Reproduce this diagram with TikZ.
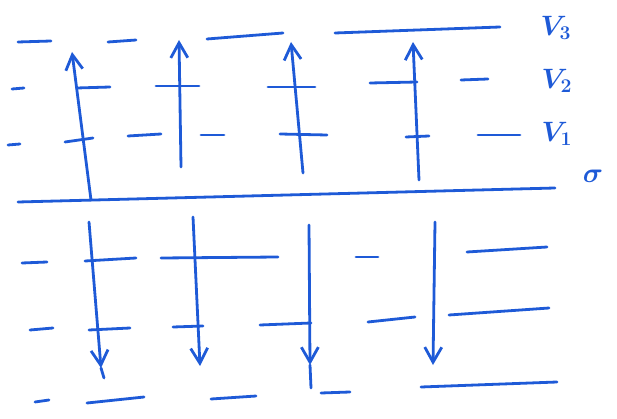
\documentclass[tikz,border=0pt]{standalone}
\usepackage{graphicx}
\usetikzlibrary{arrows.meta}
\definecolor{inkblue}{RGB}{30,90,215}
\newcommand{\biglbl}[1]{\scalebox{1.35}{\huge\boldmath$#1$}}
\begin{document}
\begin{tikzpicture}[x=1pt,y=-1pt,
  ink/.style={draw=inkblue, line width=2.8pt, line cap=round},
  uparrow/.style={ink, -{Straight Barb[length=15pt,width=17pt,line width=2.8pt]}},
  lbl/.style={text=inkblue, anchor=center, inner sep=0pt}]
\useasboundingbox (0,0) rectangle (617,419);
% level V3
\draw[ink] (18,42) -- (51,41);
\draw[ink] (108,42) -- (136,40);
\draw[ink] (207,39) -- (283,33);
\draw[ink] (335,33) -- (500,27);
% level V2
\draw[ink] (12,89) -- (24,88);
\draw[ink] (77,88) -- (110,87);
\draw[ink] (156,86) -- (199,86);
\draw[ink] (268,87) -- (315,87);
\draw[ink] (370,83) -- (417,82);
\draw[ink] (461,80) -- (488,79);
% level V1
\draw[ink] (8,145) -- (20,144);
\draw[ink] (65,142) -- (93,138);
\draw[ink] (128,136) -- (161,134);
\draw[ink] (201,135) -- (224,135);
\draw[ink] (280,134) -- (327,135);
\draw[ink] (406,137) -- (429,136);
\draw[ink] (478,135) -- (520,135);
% sigma line
\draw[ink] (18,202) -- (555,188);
% lower levels
\draw[ink] (22,263) -- (47,262);
\draw[ink] (85,261) -- (136,258);
\draw[ink] (161,258) -- (278,257);
\draw[ink] (356,257) -- (378,257);
\draw[ink] (467,252) -- (547,247);
\draw[ink] (30,330) -- (53,328);
\draw[ink] (89,330) -- (130,328);
\draw[ink] (173,327) -- (203,326);
\draw[ink] (260,325) -- (311,323);
\draw[ink] (368,322) -- (415,317);
\draw[ink] (449,315) -- (549,308);
\draw[ink] (35,402) -- (49,400);
\draw[ink] (87,403) -- (144,397);
\draw[ink] (211,399) -- (256,396);
\draw[ink] (321,393) -- (350,392);
\draw[ink] (421,387) -- (557,382);
% up arrows
\coordinate (u1s) at (91,200); \coordinate (u1e) at (72,52);
\coordinate (u2s) at (181,167); \coordinate (u2e) at (179,40);
\coordinate (u3s) at (303,173); \coordinate (u3e) at (291,42);
\coordinate (u4s) at (419,180); \coordinate (u4e) at (413,42);
\draw[uparrow] (u1s) -- (u1e);
\draw[uparrow] (u2s) -- (u2e);
\draw[uparrow] (u3s) -- (u3e);
\draw[uparrow] (u4s) -- (u4e);
% down arrows
\coordinate (d1s) at (89,222); \coordinate (d1e) at (101,368);
\coordinate (d2s) at (193,217); \coordinate (d2e) at (200,366);
\coordinate (d3s) at (309,225); \coordinate (d3e) at (310,365);
\coordinate (d4s) at (435,222); \coordinate (d4e) at (433,365);
\draw[uparrow] (d1s) -- (d1e);
\draw[uparrow] (d2s) -- (d2e);
\draw[uparrow] (d3s) -- (d3e);
\draw[uparrow] (d4s) -- (d4e);
\draw[ink] (d1e) -- (104,378);
\draw[ink] (d3e) -- (311,388);
% labels
\node[lbl] (v3) at (556,28) {\biglbl{V_3}};
\node[lbl] (v2) at (557,81) {\biglbl{V_2}};
\node[lbl] (v1) at (557,134) {\biglbl{V_1}};
\node[lbl] (sg) at (593,176) {\biglbl{\sigma}};
\end{tikzpicture}
\end{document}
